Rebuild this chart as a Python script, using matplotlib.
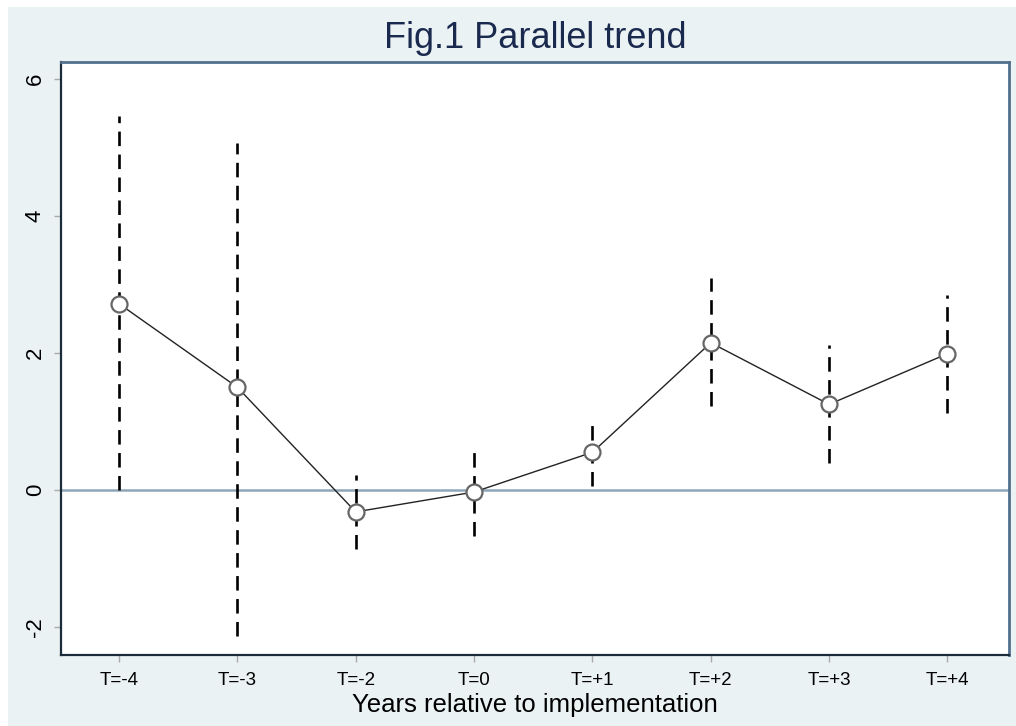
"""
plot.py

Event-study style parallel trend plot: point estimates with dashed confidence intervals.
"""

import numpy as np
import matplotlib.pyplot as plt
from matplotlib.patches import Rectangle

# ============================================================
# Data
# ============================================================
periods = ["T=-4", "T=-3", "T=-2", "T=0", "T=+1", "T=+2", "T=+3", "T=+4"]
coef = [2.72, 1.50, -0.32, -0.03, 0.55, 2.15, 1.25, 1.99]
ci_low = [0.00, -2.13, -0.86, -0.67, 0.06, 1.22, 0.39, 1.12]
ci_high = [5.46, 5.07, 0.22, 0.55, 0.95, 3.09, 2.11, 2.85]
y_ticks = [-2, 0, 2, 4, 6]

BG = "#eaf2f3"
NAVY = "#1a2a4f"


def main():
    plt.rcParams['font.family'] = ['Liberation Sans', 'DejaVu Sans']

    fig = plt.figure(figsize=(10.16, 7.26), dpi=100, facecolor="white")
    # light panel behind everything, leaving a thin white strip top/left
    fig.patches.append(Rectangle((8 / 1016, 0), 1, 1 - 7 / 726,
                                 transform=fig.transFigure, facecolor=BG,
                                 edgecolor="none", zorder=-10))

    ax = fig.add_axes([61 / 1016, 1 - 655 / 726, (1009 - 61) / 1016, (655 - 62) / 726])
    ax.set_facecolor("white")

    x = np.arange(len(periods))

    # zero reference line
    ax.axhline(0, color="#8fa6b8", linewidth=1.8, zorder=1)

    # dashed confidence intervals
    for xi, lo, hi in zip(x, ci_low, ci_high):
        ax.plot([xi, xi], [lo, hi], color="black", linewidth=1.9,
                linestyle=(0, (5.5, 3.2)), zorder=2)

    # point estimates
    ax.plot(x, coef, color="#222222", linewidth=1.0, marker="o",
            markersize=11.5, markerfacecolor="white",
            markeredgecolor="#666666", markeredgewidth=1.6, zorder=3)

    ax.set_xlim(-0.49, 7.52)
    ax.set_ylim(-2.41, 6.25)
    ax.set_xticks(x)
    ax.set_xticklabels(periods, fontsize=13.5)
    ax.set_yticks(y_ticks)
    ax.set_yticklabels([str(v) for v in y_ticks], fontsize=16, rotation=90, va="center")
    ax.tick_params(axis="both", direction="out", length=5, width=1, color="#aaaaaa", pad=6)
    ax.tick_params(axis="x", pad=7)

    for side in ("left", "bottom"):
        ax.spines[side].set_color("#1c2b3a")
        ax.spines[side].set_linewidth(1.6)
    for side in ("top", "right"):
        ax.spines[side].set_color("#52708e")
        ax.spines[side].set_linewidth(2.0)

    ax.set_xlabel("Years relative to implementation", fontsize=18.5, labelpad=3)
    fig.text(535 / 1016, 1 - 39 / 726, "Fig.1 Parallel trend", ha="center", va="center",
             fontsize=26, color=NAVY)

    fig.savefig("out.png", dpi=100, facecolor=fig.get_facecolor())


if __name__ == "__main__":
    main()
